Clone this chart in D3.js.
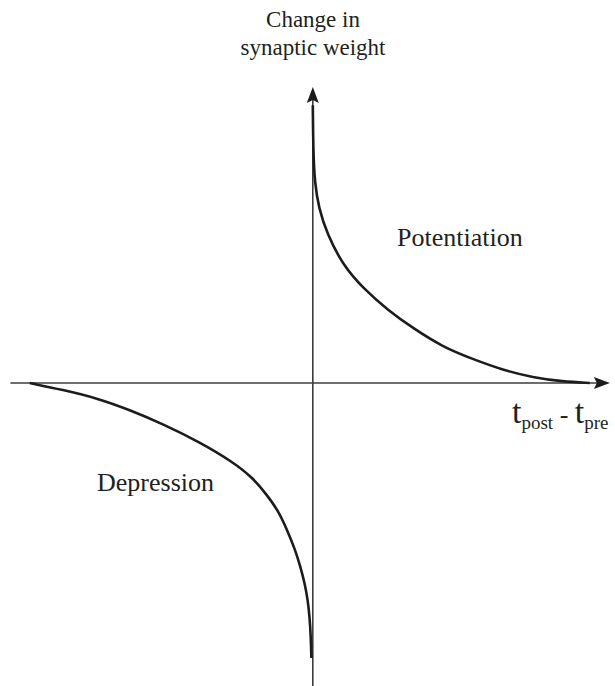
<!DOCTYPE html>
<html>
<head>
<meta charset="utf-8">
<script src="https://cdn.jsdelivr.net/npm/d3@7"></script>
<style>
  html, body { margin: 0; padding: 0; background: #fff; }
</style>
</head>
<body>
<svg id="chart" width="615" height="686"></svg>
<script>
// STDP curve: change in synaptic weight vs t_post - t_pre
// potentiation branch (dt > 0)
const potDt = [0, 0.18, 0.71, 2.14, 5, 10.7, 17.9, 26.8, 35.7, 46.4, 57.1, 67.9, 78.6, 89.3, 98.9];
const potDw = [101, 83.6, 72.7, 63.6, 54.5, 42.9, 34.5, 26.5, 20, 13.1, 8.7, 4.7, 2, 0.5, 0];
// depression branch (dt < 0)
const depDt = [-101.1, -89.3, -77.1, -65.4, -53.6, -40.4, -28.6, -21.4, -16.4, -12.5, -9.3, -6.4, -4.6, -2.9, -1.8, -1.1, -0.7, -0.5];
const depDw = [0, -2.5, -5.5, -9.8, -14.9, -21.5, -28.7, -34.5, -40.7, -46.2, -53.1, -60.4, -66.2, -72.7, -78.9, -85.5, -92.7, -100];

const FONT = "'Liberation Serif', 'DejaVu Serif', 'Times New Roman', serif";

const svg = d3.select("#chart");

const x = d3.scaleLinear().domain([-101, 99]).range([30, 590]);
const y = d3.scaleLinear().domain([-100, 100]).range([658, 108]);

const axisColor = "#3c3c3c";
const curveColor = "#1e1b1c";

// axes
const x0 = x(0), y0 = y(0);
const xL = x(-108), xR = x(106.1);
const yT = y(107.6), yB = y(-110.5);

svg.append("line")
  .attr("x1", xL).attr("x2", xR - 8)
  .attr("y1", y0).attr("y2", y0)
  .attr("stroke", axisColor).attr("stroke-width", 1.6);

svg.append("line")
  .attr("x1", x0).attr("x2", x0)
  .attr("y1", yT + 8).attr("y2", yB)
  .attr("stroke", axisColor).attr("stroke-width", 1.6);

// arrow heads
svg.append("path")
  .attr("d", `M${xR},${y0} L${xR - 16},${y0 - 6} L${xR - 13},${y0} L${xR - 16},${y0 + 6} Z`)
  .attr("fill", "#1e1b1c");
svg.append("path")
  .attr("d", `M${x0},${yT} L${x0 - 6},${yT + 16} L${x0},${yT + 13} L${x0 + 6},${yT + 16} Z`)
  .attr("fill", "#1e1b1c");

// curves
const line = d3.line()
  .x(d => x(d[0]))
  .y(d => y(d[1]))
  .curve(d3.curveBasis);

svg.append("path")
  .datum(potDt.map((d, i) => [d, potDw[i]]))
  .attr("d", line)
  .attr("fill", "none")
  .attr("stroke", curveColor)
  .attr("stroke-width", 2.6);

svg.append("path")
  .datum(depDt.map((d, i) => [d, depDw[i]]))
  .attr("d", line)
  .attr("fill", "none")
  .attr("stroke", curveColor)
  .attr("stroke-width", 2.6);

// labels
function label(px, py, size, txt, anchor) {
  return svg.append("text")
    .attr("x", px).attr("y", py)
    .attr("text-anchor", anchor || "start")
    .attr("font-family", FONT)
    .attr("font-size", size)
    .attr("fill", "#231f20")
    .text(txt);
}

label(313, 27, 23, "Change in", "middle");
label(313, 55, 23, "synaptic weight", "middle");
label(397, 246, 26, "Potentiation");
label(97, 491, 26, "Depression");

const xl = label(512, 423, 34, null);
xl.append("tspan").text("t");
xl.append("tspan").attr("dy", 6).attr("font-size", 19).text("post");
xl.append("tspan").attr("dy", -6).attr("font-size", 26).text(" - ");
xl.append("tspan").attr("font-size", 34).text("t");
xl.append("tspan").attr("dy", 6).attr("font-size", 19).text("pre");
</script>
</body>
</html>
